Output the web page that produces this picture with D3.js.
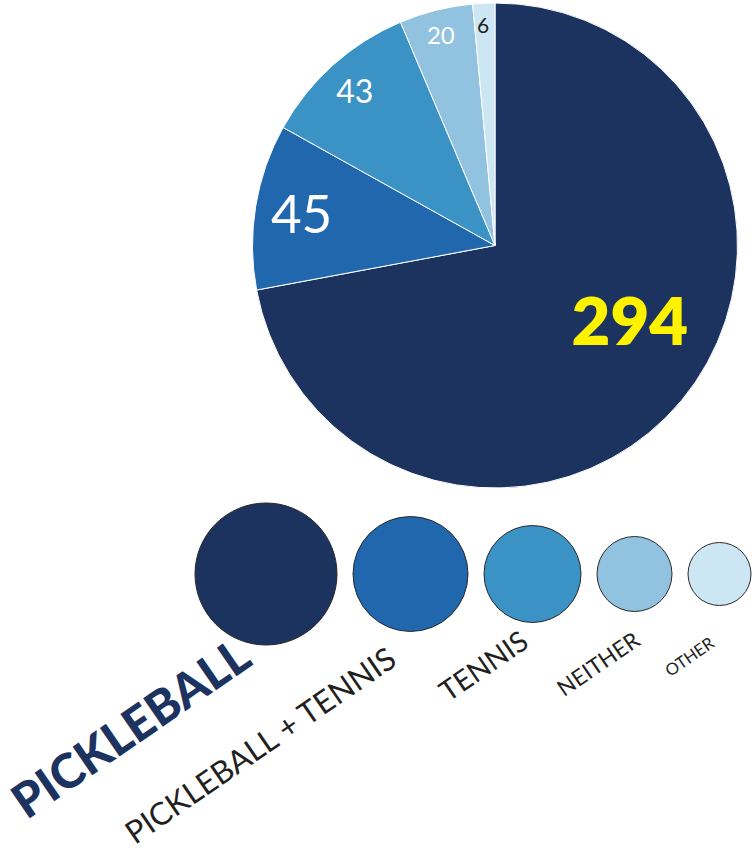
<!DOCTYPE html>
<html>
<head>
<meta charset="utf-8">
<script src="https://cdn.jsdelivr.net/npm/d3@7"></script>
<style>
  html, body { margin: 0; padding: 0; background: #fff; }
  svg { display: block; }
</style>
</head>
<body>
<svg id="chart" width="752" height="853"></svg>
<script>
// ---- data ----
const categories = ["PICKLEBALL", "PICKLEBALL + TENNIS", "TENNIS", "NEITHER", "OTHER"];
const values = [294, 45, 43, 20, 6];

// ---- styles / layout ----
const colors = ["#1c335f", "#2167ae", "#3a92c5", "#91c3e0", "#cde6f3"];
const valueLabelColors = ["#fff200", "#ffffff", "#ffffff", "#ffffff", "#231f20"];
const valueFontSizes = [67, 53, 32, 24, 21];
const valueFontWeights = [800, 400, 400, 400, 400];
const valueAngleFrac = [0.46, 0.5, 0.49, 0.48, 0.41];
const valueRadiusFrac = [0.638, 0.808, 0.859, 0.894, 0.908];

const legendRadii = [71, 57.5, 48.5, 37.5, 31.5];
const legendLabelLen = [276, 320, 100, 94, 55];
const legendLabelOffset = [[-12, 90], [-12, 90], [-2, 72], [7, 70], [-4, 72]];
const legendLabelColor = ["#1c335f", "#231f20", "#231f20", "#231f20", "#231f20"];
const legendLabelWeight = [900, 400, 400, 400, 400];

const FONT = "Lato, 'Open Sans', sans-serif";

const svg = d3.select("#chart");
const cx = 495, cy = 245.5, R = 242.5;

const data = categories.map((c, i) => ({ cat: c, value: values[i], i }));
const color = d3.scaleOrdinal(categories, colors);

const pie = d3.pie().sort(null).value(d => d.value);
const arcs = pie(data);
const arc = d3.arc().innerRadius(0).outerRadius(R);

const g = svg.append("g").attr("transform", `translate(${cx},${cy})`);
g.selectAll("path.slice")
  .data(arcs)
  .join("path")
  .attr("class", "slice")
  .attr("d", arc)
  .attr("fill", d => color(d.data.cat))
  .attr("stroke", "#ffffff")
  .attr("stroke-width", 1)
  .attr("stroke-linejoin", "round");

g.selectAll("text.val")
  .data(arcs)
  .join("text")
  .attr("class", "val")
  .each(function(d) {
    const i = d.data.i;
    const a = d.startAngle + valueAngleFrac[i] * (d.endAngle - d.startAngle);
    const r = valueRadiusFrac[i] * R;
    const x = r * Math.sin(a), y = -r * Math.cos(a);
    d3.select(this)
      .attr("x", x)
      .attr("y", y + valueFontSizes[i] * 0.36)
      .attr("text-anchor", "middle")
      .attr("font-family", FONT)
      .attr("font-size", valueFontSizes[i])
      .attr("font-weight", valueFontWeights[i])
      .attr("fill", valueLabelColors[i])
      .text(d.data.value);
  });

// ---- legend circles ----
const rScale = d3.scaleOrdinal(categories, legendRadii);
const legendY = 574, legendX0 = 195, gap = 16;
let xCursor = legendX0;
const legendPos = data.map(d => {
  const r = rScale(d.cat);
  const x = xCursor + r;
  xCursor = x + r + gap;
  return { ...d, x, r };
});

const lg = svg.append("g");
lg.selectAll("circle")
  .data(legendPos)
  .join("circle")
  .attr("cx", d => d.x)
  .attr("cy", legendY)
  .attr("r", d => d.r)
  .attr("fill", d => color(d.cat))
  .attr("stroke", "#2a2a2a")
  .attr("stroke-width", 1);

lg.selectAll("text")
  .data(legendPos)
  .join("text")
  .each(function(d) {
    const i = d.i;
    const t = d3.select(this)
      .attr("text-anchor", "end")
      .attr("font-family", FONT)
      .attr("font-weight", legendLabelWeight[i])
      .attr("fill", legendLabelColor[i])
      .attr("font-size", 20)
      .text(d.cat);
    const len = this.getComputedTextLength();
    const fs = 20 * legendLabelLen[i] / len;
    const ex = d.x + legendLabelOffset[i][0];
    const ey = legendY + legendLabelOffset[i][1];
    t.attr("font-size", fs)
     .attr("transform", `translate(${ex},${ey}) rotate(-34.5)`);
  });
</script>
</body>
</html>
